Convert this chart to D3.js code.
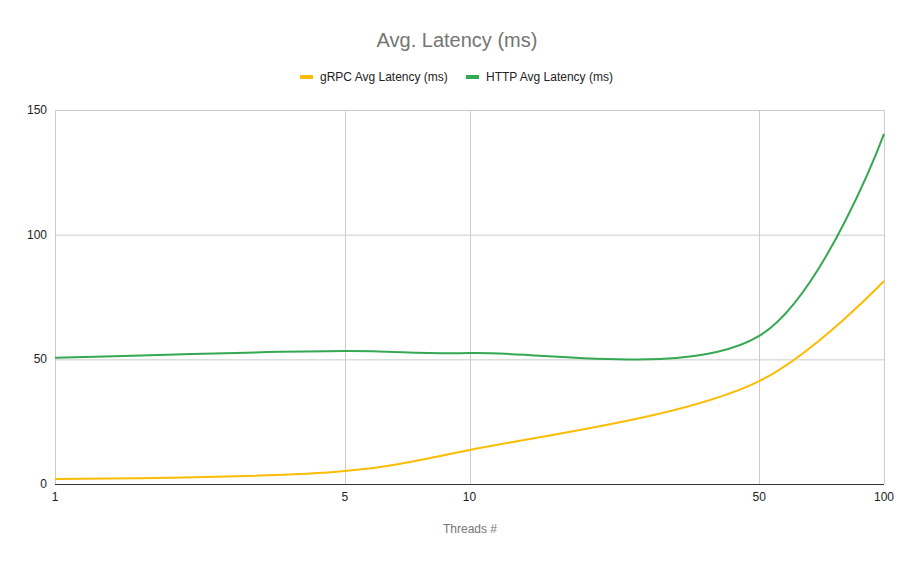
<!DOCTYPE html>
<html>
<head>
<meta charset="utf-8">
<script src="https://cdn.jsdelivr.net/npm/d3@7"></script>
<style>
  body { margin: 0; background: #fff; }
  text { font-family: Arial, "Liberation Sans", sans-serif; }
</style>
</head>
<body>
<div id="chart"></div>
<script>
var threads = [1, 5, 10, 50, 100];
var grpcLatency = [2, 5.2, 13.6, 41.3, 81.4];
var httpLatency = [50.6, 53.3, 52.5, 59.4, 140.4];
var yTicks = [0, 50, 100, 150];

var seriesNames = ["gRPC Avg Latency (ms)", "HTTP Avg Latency (ms)"];
var seriesColors = ["#fbbc04", "#34a853"];

var width = 913, height = 565,
    plotLeft = 55, plotRight = 884, plotTop = 110, plotBottom = 484;

var svg = d3.select("#chart").append("svg")
    .attr("width", width)
    .attr("height", height);

var x = d3.scaleLog().domain([1, 100]).range([plotLeft, plotRight]);
var y = d3.scaleLinear().domain([0, 150]).range([plotBottom, plotTop]);

// gridlines
svg.selectAll(".ygrid")
    .data(yTicks.filter(function(d) { return d > 0; }))
    .enter()
  .append("line")
    .attr("x1", plotLeft).attr("x2", plotRight)
    .attr("y1", function(d) { return y(d) + 0.5; })
    .attr("y2", function(d) { return y(d) + 0.5; })
    .style("stroke", "#cccccc");

svg.selectAll(".xgrid")
    .data(threads)
    .enter()
  .append("line")
    .attr("x1", function(d) { return Math.round(x(d)) + 0.5; })
    .attr("x2", function(d) { return Math.round(x(d)) + 0.5; })
    .attr("y1", plotTop).attr("y2", plotBottom)
    .style("stroke", "#cccccc");

// y labels
svg.selectAll(".ylabel")
    .data(yTicks)
    .enter()
  .append("text")
    .attr("x", 47)
    .attr("y", function(d) { return y(d) + 4; })
    .attr("text-anchor", "end")
    .style("font-size", "12px")
    .style("fill", "#222")
    .text(function(d) { return d; });

// x labels
svg.selectAll(".xlabel")
    .data(threads)
    .enter()
  .append("text")
    .attr("x", function(d) { return x(d); })
    .attr("y", 501)
    .attr("text-anchor", "middle")
    .style("font-size", "12px")
    .style("fill", "#222")
    .text(function(d) { return d; });

// smoothed lines
var line = d3.line()
    .x(function(d) { return x(d[0]); })
    .y(function(d) { return y(d[1]); })
    .curve(d3.curveCatmullRom.alpha(0.5));

[grpcLatency, httpLatency].forEach(function(vals, i) {
  svg.append("path")
    .datum(threads.map(function(t, j) { return [t, vals[j]]; }))
    .attr("d", line)
    .style("fill", "none")
    .style("stroke", seriesColors[i])
    .style("stroke-width", "2px");
});

// baseline
svg.append("line")
    .attr("x1", plotLeft).attr("x2", plotRight)
    .attr("y1", plotBottom + 0.5).attr("y2", plotBottom + 0.5)
    .style("stroke", "#333");

// title
svg.append("text")
    .attr("x", 457)
    .attr("y", 47)
    .attr("text-anchor", "middle")
    .style("font-size", "20px")
    .style("fill", "#757575")
    .text("Avg. Latency (ms)");

// axis title
svg.append("text")
    .attr("x", 470)
    .attr("y", 533)
    .attr("text-anchor", "middle")
    .style("font-size", "12px")
    .style("fill", "#757575")
    .text("Threads #");

// legend
var legendX = [300, 466];
var legend = svg.selectAll(".legend")
    .data(seriesNames)
    .enter()
  .append("g")
    .attr("transform", function(d, i) { return "translate(" + legendX[i] + ",77)"; });

legend.append("line")
    .attr("x1", 0).attr("x2", 13)
    .style("stroke", function(d, i) { return seriesColors[i]; })
    .style("stroke-width", "4px");

legend.append("text")
    .attr("x", 20)
    .attr("y", 4)
    .style("font-size", "12px")
    .style("fill", "#222")
    .text(function(d) { return d; });
</script>
</body>
</html>
